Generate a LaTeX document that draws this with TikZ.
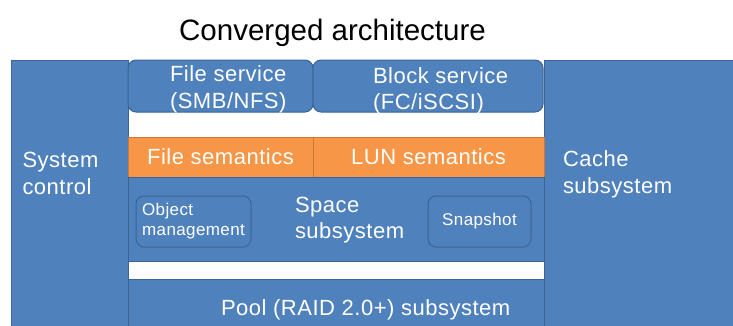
\documentclass[tikz,border=0pt]{standalone}
\usepackage{fontspec}
\setmainfont{Liberation Sans}
\newfontfamily\boxfont[LetterSpace=2.3]{Liberation Sans}
\usetikzlibrary{positioning}
\definecolor{archblue}{HTML}{4F81BD}
\definecolor{archblueline}{HTML}{3B6496}
\definecolor{archorange}{HTML}{F79646}
\definecolor{archorangeline}{HTML}{D0782F}

\begin{document}
\begin{tikzpicture}[x=1pt, y=1pt, node distance=0pt and 0pt,
    every node/.style={outer sep=0pt},
    blk/.style={rectangle, draw=archblueline, fill=archblue, line width=1pt, inner sep=0pt, text=white, font=\boxfont\fontsize{22}{26.5}\selectfont},
    rblk/.style={blk, rounded corners=8pt},
    sem/.style={blk, draw=archorangeline, fill=archorange},
    lbl/.style={inner sep=0pt, align=left, text=white, font=\boxfont\fontsize{22}{26.5}\selectfont},
    small/.style={font=\boxfont\fontsize{17}{20}\selectfont}]
  \clip (0,0) rectangle (733,-325);
  \node[font=\fontsize{29.5}{34}\selectfont, anchor=base] (title) at (332.5,-40) {Converged architecture};

  % outer columns and services
  \node[blk, minimum width=117pt, minimum height=272pt, anchor=north west] (sys) at (11,-60) {};
  \node[rblk, minimum width=185pt, minimum height=52pt, right=0pt of sys.north east, anchor=north west] (filesvc) {};
  \node[rblk, minimum width=230pt, minimum height=52pt, right=0pt of filesvc.north east, anchor=north west] (blocksvc) {};
  \node[blk, minimum width=200pt, minimum height=272pt, right=1pt of blocksvc.north east, anchor=north west] (cache) {};

  % semantics
  \node[sem, minimum width=185pt, minimum height=40pt, below right=25pt and 0pt of filesvc.south west] (filesem) {File semantics};
  \node[sem, minimum width=231pt, minimum height=40pt, right=0pt of filesem.north east, anchor=north west] (lunsem) {LUN semantics};

  % space and pool
  \node[blk, minimum width=416pt, minimum height=84pt, below right=0pt and 0pt of filesem.south west] (space) {};
  \node[rblk, small, align=left, minimum width=115pt, minimum height=51pt, below right=19pt and 8pt of space.north west] (objmgmt) {Object\\management};
  \node[rblk, small, minimum width=103pt, minimum height=51pt, below right=19pt and 300pt of space.north west] (snap) {Snapshot};
  \node[blk, minimum width=416pt, minimum height=50pt, below right=18pt and 0pt of space.south west] (pool) {};

  % texts
  \node[lbl, below right=92.5pt and 11.5pt of sys.north west] (syslbl) {System\\control};
  \node[lbl, below right=6pt and 42pt of filesvc.north west] (filelbl) {File service\\(SMB/NFS)};
  \node[lbl, below right=7.5pt and 60pt of blocksvc.north west] (blocklbl) {Block service\\(FC/iSCSI)};
  \node[lbl, below right=91pt and 19pt of cache.north west] (cachelbl) {Cache\\subsystem};
  \node[lbl, below right=20pt and 167pt of space.north west] (spacelbl) {Space\\subsystem};
  \node[lbl, below right=21pt and 93pt of pool.north west] (poollbl) {Pool (RAID 2.0+) subsystem};
\end{tikzpicture}
\end{document}
